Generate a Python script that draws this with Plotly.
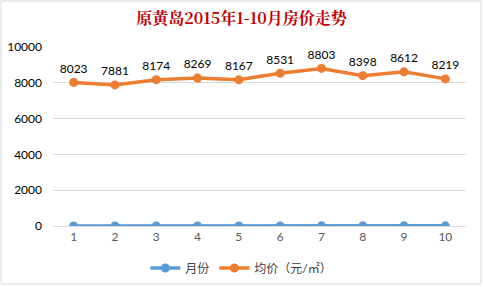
import plotly.graph_objects as go

months = ["1", "2", "3", "4", "5", "6", "7", "8", "9", "10"]
month_vals = [1, 2, 3, 4, 5, 6, 7, 8, 9, 10]
prices = [8023, 7881, 8174, 8269, 8167, 8531, 8803, 8398, 8612, 8219]
y_ticks = [0, 2000, 4000, 6000, 8000, 10000]

blue = "#5B9BD5"
orange = "#ED7D31"
font_fam = "Lato, 'Noto Sans CJK SC', sans-serif"

fig = go.Figure()
fig.add_trace(go.Scatter(
    x=months, y=month_vals, name="月份", mode="lines+markers",
    line=dict(color=blue, width=3.5), marker=dict(size=9, color=blue),
))
fig.add_trace(go.Scatter(
    x=months, y=prices, name="均价（元/㎡）", mode="lines+markers+text",
    line=dict(color=orange, width=3.5), marker=dict(size=9, color=orange),
    text=[str(v) for v in prices], textposition="top center",
    textfont=dict(size=12, color="#000000", family=font_fam),
))

fig.update_layout(
    width=483, height=287,
    margin=dict(l=53, r=17, t=47, b=61, autoexpand=False),
    paper_bgcolor="white", plot_bgcolor="white",
    font=dict(family=font_fam, color="#595959", size=12),
    title=dict(
        text="<b>原黄岛2015年1-10月房价走势</b>",
        x=0.5, xanchor="center", y=0.935, yanchor="middle",
        font=dict(family="'Noto Serif CJK SC', 'Noto Sans CJK SC', serif", size=16, color="#C00000"),
    ),
    xaxis=dict(
        type="category", range=[-0.5, 9.5], showgrid=False,
        showline=True, linecolor="#D9D9D9", ticks="",
        tickfont=dict(size=12, color="#595959"), automargin=False,
    ),
    yaxis=dict(
        range=[0, 10000], tickvals=y_ticks, tickformat="d", showgrid=True, gridcolor="#D9D9D9",
        zeroline=False, tickfont=dict(size=12, color="#000000"),
        ticklabelstandoff=10, automargin=False,
    ),
    legend=dict(
        orientation="h", x=0.456, xanchor="center", yref="container",
        y=1 - 268 / 287, yanchor="middle",
        font=dict(size=12, color="#404040"),
    ),
    showlegend=True,
)
fig.add_shape(type="rect", xref="paper", yref="paper",
              x0=-52/413, x1=(481-53)/413, y0=-(61-3)/179, y1=47/179 + 1 - 0.005,
              line=dict(color="#D9D9D9", width=1))

fig.write_html("out.html")
